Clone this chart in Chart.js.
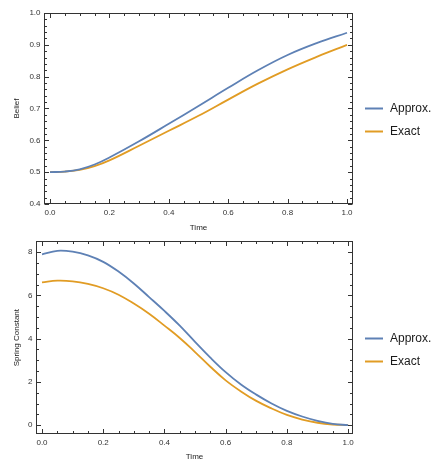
<!DOCTYPE html>
<html>
<head>
<meta charset="utf-8">
<script src="https://cdn.jsdelivr.net/npm/chart.js@4"></script>
<style>
  html, body { margin:0; padding:0; background:#fff; }
  #wrap { position:relative; width:433px; height:462px; overflow:hidden; }
  canvas { position:absolute; left:0; }
</style>
</head>
<body>
<div id="wrap">
  <canvas id="c1" width="433" height="233" style="top:0"></canvas>
  <canvas id="c2" width="433" height="229" style="top:233px"></canvas>
</div>
<script>
// ---- data ----
const seriesNames = ['Approx.', 'Exact'];
const beliefTime   = [0, 0.05, 0.1, 0.15, 0.2, 0.3, 0.4, 0.5, 0.6, 0.7, 0.8, 0.9, 1.0];
const beliefApprox = [0.5, 0.502, 0.509, 0.524, 0.546, 0.597, 0.652, 0.708, 0.765, 0.820, 0.868, 0.906, 0.938];
const beliefExact  = [0.5, 0.502, 0.507, 0.519, 0.537, 0.583, 0.630, 0.677, 0.728, 0.778, 0.823, 0.863, 0.900];

const springTime   = [0, 0.05, 0.1, 0.15, 0.2, 0.25, 0.3, 0.35, 0.4, 0.45, 0.5, 0.55, 0.6, 0.65, 0.7, 0.75, 0.8, 0.85, 0.9, 0.95, 1.0];
const springApprox = [7.9, 8.06, 8.02, 7.85, 7.55, 7.10, 6.55, 5.92, 5.28, 4.60, 3.85, 3.12, 2.45, 1.88, 1.41, 1.00, 0.66, 0.40, 0.20, 0.06, 0.0];
const springExact  = [6.6, 6.68, 6.65, 6.53, 6.33, 6.03, 5.62, 5.15, 4.60, 4.03, 3.38, 2.70, 2.07, 1.56, 1.12, 0.77, 0.47, 0.26, 0.11, 0.03, 0.0];

const timeTicks   = [0, 0.2, 0.4, 0.6, 0.8, 1.0];
const beliefTicks = [0.4, 0.5, 0.6, 0.7, 0.8, 0.9, 1.0];
const springTicks = [0, 2, 4, 6, 8];

const COLORS = ['#5E81B5', '#E19C24'];
const FONT = '"Liberation Sans", Arial, sans-serif';

function pts(xs, ys) { return xs.map((x, i) => ({ x: x, y: ys[i] })); }

// frame, inward ticks, legend
const framePlugin = {
  id: 'frame',
  afterDraw(chart, args, o) {
    const { ctx, chartArea: a } = chart;
    const xs = chart.scales.x, ys = chart.scales.y;
    ctx.save();
    ctx.strokeStyle = '#333';
    ctx.lineWidth = 1;
    ctx.strokeRect(Math.round(a.left) + 0.5, Math.round(a.top) + 0.5,
                   Math.round(a.right - a.left) - 1, Math.round(a.bottom - a.top) - 1);
    ctx.beginPath();
    const L = Math.round(a.left) + 0.5, R = Math.round(a.right) - 0.5;
    const T = Math.round(a.top) + 0.5, B = Math.round(a.bottom) - 0.5;
    function xt(v, len) {
      const p = Math.round(xs.getPixelForValue(v)) + 0.5;
      ctx.moveTo(p, B); ctx.lineTo(p, B - len);
      ctx.moveTo(p, T); ctx.lineTo(p, T + len);
    }
    function yt(v, len) {
      const p = Math.round(ys.getPixelForValue(v)) + 0.5;
      ctx.moveTo(L, p); ctx.lineTo(L + len, p);
      ctx.moveTo(R, p); ctx.lineTo(R - len, p);
    }
    for (let k = 0; k <= 20; k++) {
      xt(k * 0.05, k % 4 === 0 ? 4.5 : 2.5);
    }
    const step = o.yMinor, per = o.yPer;
    for (let k = Math.ceil(o.yMin / step - 1e-9); k * step <= o.yMax + 1e-9; k++) {
      const v = k * step;
      if (v < ys.min || v > ys.max) continue;
      yt(v, (Math.round(k) % per === 0) ? 4.5 : 2.5);
    }
    ctx.stroke();

    // legend
    const ds = chart.data.datasets;
    ctx.font = '12px ' + FONT;
    ctx.textBaseline = 'middle';
    ctx.textAlign = 'left';
    ds.forEach((d, i) => {
      const y = o.legendY + i * 23;
      ctx.strokeStyle = d.borderColor;
      ctx.lineWidth = 2;
      ctx.beginPath();
      ctx.moveTo(365, y + 0.5); ctx.lineTo(383, y + 0.5);
      ctx.stroke();
      ctx.fillStyle = '#1a1a1a';
      ctx.fillText(d.label, 390, y + 0.5);
    });
    ctx.restore();
  }
};

function makeChart(id, xsArr, a1, a2, opt) {
  return new Chart(document.getElementById(id), {
    type: 'line',
    data: {
      datasets: [
        { label: seriesNames[0], data: pts(xsArr, a1), borderColor: COLORS[0], backgroundColor: COLORS[0],
          borderWidth: 1.8, pointRadius: 0, tension: 0.4, fill: false },
        { label: seriesNames[1], data: pts(xsArr, a2), borderColor: COLORS[1], backgroundColor: COLORS[1],
          borderWidth: 1.8, pointRadius: 0, tension: 0.4, fill: false }
      ]
    },
    options: {
      responsive: false,
      animation: false,
      devicePixelRatio: 1,
      layout: { padding: { top: opt.padTop, right: 80, left: 0, bottom: 0 } },
      plugins: {
        legend: { display: false },
        tooltip: { enabled: false },
        frame: { yMin: opt.yMin, yMax: opt.yMax, yMinor: opt.yMinor, yPer: opt.yPer, legendY: opt.legendY }
      },
      scales: {
        x: {
          type: 'linear',
          min: opt.xMin, max: opt.xMax,
          grid: { display: false, drawTicks: false },
          border: { display: false },
          afterBuildTicks: s => { s.ticks = timeTicks.map(v => ({ value: v })); },
          afterFit: s => { s.height = opt.xH; },
          ticks: { padding: 4, color: '#333', font: { family: FONT, size: 8 },
                   callback: v => Number(v).toFixed(1), maxRotation: 0, autoSkip: false },
          title: { display: true, text: 'Time', color: '#222', font: { family: FONT, size: 8 },
                   padding: { top: 0, bottom: 0 } }
        },
        y: {
          type: 'linear',
          min: opt.yMin, max: opt.yMax,
          grid: { display: false, drawTicks: false },
          border: { display: false },
          afterBuildTicks: s => { s.ticks = opt.yTicks.map(v => ({ value: v })); },
          afterFit: s => { s.width = opt.yW; },
          ticks: { padding: 3.5, color: '#333', font: { family: FONT, size: 8 },
                   callback: opt.yFmt, autoSkip: false },
          title: { display: true, text: opt.yTitle, color: '#222', font: { family: FONT, size: 8 },
                   padding: { top: 12, bottom: 12 } }
        }
      }
    },
    plugins: [framePlugin]
  });
}

makeChart('c1', beliefTime, beliefApprox, beliefExact, {
  padTop: 13, xH: 29, yW: 44,
  xMin: -0.0202, xMax: 1.0202,
  yMin: 0.4, yMax: 1.0, yMinor: 0.02, yPer: 5,
  yTicks: beliefTicks, yFmt: v => Number(v).toFixed(1),
  yTitle: 'Belief', legendY: 108
});

makeChart('c2', springTime, springApprox, springExact, {
  padTop: 5, xH: 28, yW: 36,
  xMin: -0.0196, xMax: 1.016,
  yMin: -0.41, yMax: 8.5, yMinor: 0.5, yPer: 4,
  yTicks: springTicks, yFmt: v => String(Math.round(v)),
  yTitle: 'Spring Constant', legendY: 105
});
</script>
</body>
</html>
